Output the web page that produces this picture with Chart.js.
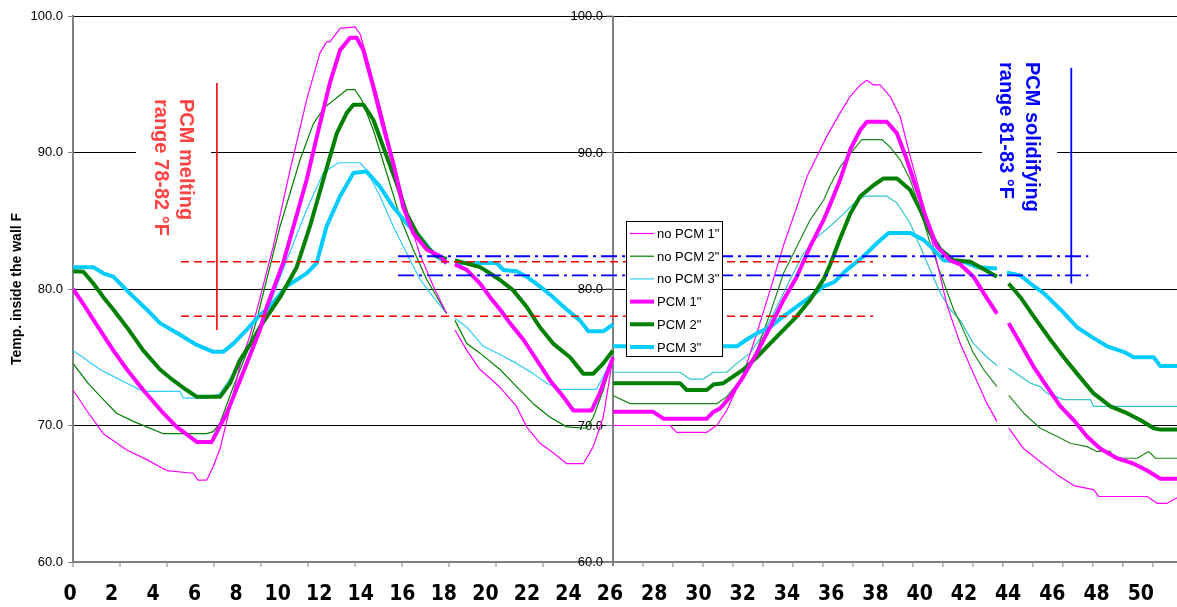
<!DOCTYPE html>
<html lang="en">
<head>
<meta charset="UTF-8">
<title>Temperature inside the wall</title>
<script src="https://cdn.jsdelivr.net/npm/chart.js"></script>
<style>
  html, body { margin: 0; padding: 0; background: #fff; }
  #wrap { width: 1177px; height: 607px; }
</style>
</head>
<body>
<div id="wrap"><canvas id="tempChart" width="1177" height="607"></canvas></div>
<script>
// ---- data (hour, temperature F); null marks a gap in the record ----
const xTickLabels = [0,2,4,6,8,10,12,14,16,18,20,22,24,26,28,30,32,34,36,38,40,42,44,46,48,50];
const yTicks = [60, 70, 80, 90, 100];
const seriesLabels = ['no PCM 1"', 'no PCM 2"', 'no PCM 3"', 'PCM 1"', 'PCM 2"', 'PCM 3"'];

// first day (left panel, hours 0-26)
const leftNoPcm1 = [[0,72.6],[0.66,71.1],[1.46,69.4],[2.59,68.2],[3.55,67.5],[4.51,66.7],[5.79,66.5],[6.02,66.0],[6.44,66.0],[6.75,67.0],[7.08,68.3],[7.56,71.3],[8.04,74.4],[8.52,76.6],[8.84,78.4],[9.64,83.1],[10.45,88.7],[11.25,93.85],[11.89,97.3],[12.21,98.1],[12.37,98.1],[12.86,99.1],[13.58,99.2],[13.82,98.7],[14.14,97.0],[14.78,93.4],[15.42,89.5],[16.07,85.6],[16.71,82.5],[17.35,80.2],[17.99,78.2],[18.2,null],[18.39,77.0],[18.96,75.5],[19.6,74.1],[20.56,72.8],[21.36,71.4],[21.84,69.9],[22.48,68.7],[23.12,68.0],[23.77,67.2],[24.57,67.2],[25.05,68.45],[25.53,70.6],[26,75.0]];
const leftNoPcm2 = [[0,74.55],[0.72,73.1],[1.46,71.9],[2.1,70.9],[2.9,70.3],[3.55,69.9],[4.35,69.4],[6.44,69.4],[6.75,69.55],[7.08,70.2],[7.72,72.85],[8.36,75.3],[8.84,77.7],[9.0,78.7],[9.97,84.6],[10.93,89.45],[11.57,92.1],[12.13,93.35],[12.37,93.6],[12.77,94.1],[13.18,94.6],[13.58,94.6],[13.9,93.85],[14.46,91.65],[15.1,88.5],[15.74,85.3],[16.38,82.9],[17.03,80.7],[17.99,78.2],[18.2,null],[18.39,77.7],[18.96,76.0],[19.6,75.3],[20.56,74.1],[21.36,72.85],[22.16,71.6],[22.97,70.6],[23.77,69.9],[24.73,69.8],[25.05,70.6],[25.53,72.6],[26,75.0]];
const leftNoPcm3 = [[0,75.5],[0.66,74.8],[1.3,74.1],[1.94,73.6],[2.59,73.1],[3.38,72.5],[5.15,72.5],[5.31,72.0],[6.44,72.0],[7.08,72.35],[7.72,73.8],[8.36,75.3],[9.0,77.0],[9.33,78.3],[10.29,82.1],[11.25,85.8],[12.05,88.5],[12.77,89.25],[13.82,89.25],[14.14,88.7],[14.78,86.8],[15.42,84.6],[16.07,82.6],[16.71,80.7],[17.35,79.4],[17.99,78.2],[18.2,null],[18.39,77.85],[18.96,77.2],[19.75,75.8],[20.56,75.2],[21.36,74.55],[22.16,73.8],[22.81,73.1],[23.45,72.65],[25.21,72.65],[26,75.0]];
const leftPcm1 = [[0,80.0],[0.5,78.9],[1.0,77.7],[1.94,75.5],[2.6,74.1],[3.38,72.6],[4.35,70.9],[4.99,69.9],[5.96,68.8],[6.68,68.8],[7.4,70.9],[8.04,73.3],[9.0,77.0],[9.33,78.7],[10.12,81.9],[11.25,88.0],[11.81,91.6],[12.37,95.1],[12.86,97.5],[13.34,98.4],[13.66,98.4],[13.98,97.5],[14.46,94.8],[14.94,91.9],[15.42,89.2],[15.9,86.0],[16.38,84.1],[17.03,82.9],[17.67,82.4],[18.0,81.9],[18.2,null],[18.39,81.8],[18.96,81.4],[19.6,80.4],[20.08,79.4],[20.56,78.5],[21.04,77.5],[21.68,76.3],[22.33,74.8],[22.97,73.3],[23.61,72.1],[24.09,71.1],[24.97,71.1],[25.37,72.4],[26,75.0]];
const leftPcm2 = [[0,81.3],[0.5,81.27],[0.98,80.4],[1.46,79.4],[1.94,78.5],[2.59,77.2],[3.38,75.5],[4.19,74.1],[4.83,73.3],[5.47,72.6],[5.96,72.1],[7.08,72.1],[7.56,73.1],[8.04,74.8],[8.68,76.3],[9.0,77.2],[9.97,79.4],[10.77,81.6],[11.41,84.6],[12.05,88.0],[12.7,91.4],[13.18,92.9],[13.5,93.5],[13.98,93.5],[14.46,92.4],[14.94,90.4],[15.59,87.7],[16.07,85.5],[16.55,84.1],[17.03,83.1],[17.51,82.4],[17.99,82.2],[18.2,null],[18.39,82.1],[19.6,81.6],[20.08,81.15],[20.56,80.66],[21.2,79.9],[21.84,78.7],[22.48,77.2],[23.12,76.0],[23.93,75.0],[24.57,73.8],[25.05,73.8],[25.53,74.55],[26,75.5]];
const leftPcm3 = [[0,81.6],[0.98,81.6],[1.46,81.15],[1.94,80.9],[2.59,79.9],[3.55,78.5],[4.19,77.5],[4.99,76.8],[5.96,75.9],[6.75,75.4],[7.24,75.4],[7.72,76.0],[8.36,77.0],[9.0,78.1],[9.48,78.7],[10.29,80.2],[11.25,81.15],[11.73,81.9],[12.21,84.6],[12.86,86.8],[13.5,88.5],[14.14,88.6],[14.78,87.5],[15.42,86.0],[16.07,84.8],[16.71,83.8],[17.35,82.6],[17.99,81.9],[18.2,null],[18.39,81.9],[20.4,81.9],[20.72,81.4],[21.36,81.3],[21.84,80.9],[22.48,80.2],[23.12,79.4],[23.77,78.5],[24.41,77.7],[24.81,76.9],[25.53,76.9],[26,77.4]];

// second day (right panel, hours 26-51.5)
const rightNoPcm1 = [[26,70.0],[28.58,70.0],[28.88,69.5],[30.24,69.5],[30.69,70.0],[31.14,71.1],[31.9,73.8],[32.5,76.75],[33.1,79.9],[33.71,83.2],[34.31,86.0],[34.76,88.2],[35.22,89.7],[35.67,91.2],[36.27,92.9],[36.72,94.1],[37.18,94.95],[37.48,95.3],[37.78,94.95],[38.08,94.95],[38.53,94.1],[38.99,92.6],[39.44,89.7],[39.89,87.0],[40.34,84.1],[40.8,80.9],[41.1,78.8],[41.7,76.0],[42.3,73.8],[42.91,71.6],[43.36,70.3],[43.6,null],[43.89,69.8],[44.57,68.3],[45.32,67.35],[46.08,66.4],[46.83,65.6],[47.73,65.3],[47.96,64.8],[50.15,64.8],[50.6,64.3],[51.05,64.3],[51.5,64.7]];
const rightNoPcm2 = [[26,72.2],[26.77,71.6],[30.69,71.6],[31.14,72.1],[31.9,73.6],[32.5,75.5],[33.1,78.2],[33.71,81.15],[34.31,83.1],[34.91,85.05],[35.52,86.5],[35.82,87.6],[36.27,88.95],[36.72,89.9],[37.25,90.95],[38.16,90.95],[38.53,90.4],[38.99,89.45],[39.44,88.0],[39.89,85.8],[40.34,83.35],[40.8,81.15],[41.4,78.5],[41.7,77.5],[42.3,75.3],[42.76,74.1],[43.36,72.85],[43.6,null],[43.89,72.2],[44.57,70.9],[45.32,69.8],[46.08,69.2],[46.68,68.7],[47.43,68.45],[47.88,68.1],[48.49,68.1],[48.64,67.6],[49.7,67.6],[50.22,68.1],[50.52,67.6],[51.5,67.6]];
const rightNoPcm3 = [[26,73.9],[29.03,73.9],[29.48,73.4],[30.09,73.4],[30.54,73.9],[31.14,73.9],[31.6,74.55],[32.2,75.3],[32.8,76.75],[33.41,78.7],[34.01,80.7],[34.61,82.6],[35.22,83.8],[35.82,84.6],[36.42,85.5],[37.03,86.5],[37.4,86.8],[38.38,86.8],[38.84,86.3],[39.44,84.8],[39.89,83.1],[40.34,81.4],[40.8,79.7],[41.25,78.5],[41.7,77.7],[42.3,76.0],[42.91,75.0],[43.36,74.4],[43.6,null],[43.89,74.2],[44.42,73.6],[44.87,73.1],[45.32,72.85],[45.62,72.35],[46.38,71.9],[47.58,71.9],[47.73,71.4],[51.5,71.4]];
const rightPcm1 = [[26,71.0],[27.82,71.0],[28.28,70.5],[30.24,70.5],[30.54,71.0],[30.84,71.25],[31.29,72.1],[31.9,73.6],[32.5,75.3],[33.1,77.2],[33.71,79.2],[34.31,80.9],[34.91,83.1],[35.52,85.05],[35.82,86.2],[36.27,88.0],[36.72,90.2],[37.18,91.65],[37.48,92.25],[38.38,92.25],[38.84,91.4],[39.29,89.45],[39.74,87.25],[40.19,85.05],[40.65,83.1],[41.25,82.1],[41.7,81.8],[42.3,80.9],[42.76,79.7],[43.36,78.2],[43.6,null],[43.89,77.5],[44.42,76.0],[45.02,74.3],[45.62,72.85],[46.23,71.4],[46.83,70.4],[47.43,69.2],[48.04,68.3],[48.79,67.6],[49.54,67.2],[50.15,66.7],[50.75,66.1],[51.5,66.1]];
const rightPcm2 = [[26,73.1],[29.03,73.1],[29.33,72.6],[30.24,72.6],[30.54,73.0],[30.99,73.1],[31.44,73.6],[31.9,74.1],[32.5,75.0],[33.1,76.0],[33.71,77.0],[34.31,78.0],[34.91,79.2],[35.52,80.7],[35.82,81.8],[36.27,83.7],[36.72,85.5],[37.18,86.8],[37.78,87.6],[38.23,88.1],[38.84,88.1],[39.44,87.25],[39.89,85.8],[40.34,84.1],[40.8,82.9],[41.4,82.1],[42.15,82.0],[42.61,81.6],[43.36,80.9],[43.6,null],[43.89,80.4],[44.42,79.4],[45.02,78.0],[45.77,76.3],[46.38,75.0],[46.98,73.8],[47.73,72.35],[48.49,71.4],[49.24,70.9],[49.84,70.4],[50.45,69.8],[50.75,69.7],[51.5,69.7]];
const rightPcm3 = [[26,75.8],[31.6,75.8],[32.05,76.3],[32.5,76.75],[33.1,77.2],[33.71,78.0],[34.31,78.7],[34.91,79.4],[35.52,80.2],[36.0,80.5],[36.57,81.4],[37.33,82.4],[37.93,83.35],[38.46,84.1],[39.44,84.1],[40.04,83.6],[40.49,82.9],[40.95,82.1],[41.85,82.0],[42.46,81.6],[43.36,81.5],[43.6,null],[43.81,81.2],[44.42,81.0],[44.87,80.4],[45.47,79.7],[46.23,78.5],[46.98,77.2],[47.73,76.4],[48.34,75.8],[49.09,75.4],[49.54,75.0],[50.45,75.0],[50.75,74.35],[51.5,74.35]];

// PCM phase change ranges marked on the chart
const meltRange = [78, 82];
const meltSpan = [5.2, 37.76];
const meltMarker = [[6.93, 77.0], [6.93, 95.1]];
const solidRange = [81.0, 82.4];
const solidSpan = [15.65, 47.49];
const solidMarker = [[46.72, 80.4], [46.72, 96.2]];

// ---- x scale: the two days were plotted as separate panels of different width ----
const SPLIT_HOUR = 26;
const SPLIT_FRAC = 540 / 1104;

class SplitScale extends Chart.LinearScale {
  getPixelForValue(value) {
    if (value === null || value === undefined || isNaN(value)) return NaN;
    const mid = this.left + this.width * SPLIT_FRAC;
    if (value <= SPLIT_HOUR) {
      return this.left + (value - this.min) / (SPLIT_HOUR - this.min) * (mid - this.left);
    }
    return mid + (value - SPLIT_HOUR) / (this.max - SPLIT_HOUR) * (this.right - mid);
  }
  getValueForPixel(pixel) {
    const mid = this.left + this.width * SPLIT_FRAC;
    if (pixel <= mid) return this.min + (pixel - this.left) / (mid - this.left) * (SPLIT_HOUR - this.min);
    return SPLIT_HOUR + (pixel - mid) / (this.right - mid) * (this.max - SPLIT_HOUR);
  }
}
SplitScale.id = 'split';
SplitScale.defaults = Chart.LinearScale.defaults;
Chart.register(SplitScale);

const FONT = "'Liberation Sans', Arial, sans-serif";
const NARROW = "'Liberation Sans Narrow', 'DejaVu Sans Condensed', 'Liberation Sans', sans-serif";

const series = [
  { left: leftNoPcm1, right: rightNoPcm1, color: '#ff00ff', rightColor: '#ff00ff', width: 1.2, thick: false },
  { left: leftNoPcm2, right: rightNoPcm2, color: '#008000', rightColor: '#1f8a1f', width: 1.2, thick: false },
  { left: leftNoPcm3, right: rightNoPcm3, color: '#33ccff', rightColor: '#33c4cc', width: 1.2, thick: false },
  { left: leftPcm1, right: rightPcm1, color: '#ff00ff', rightColor: '#ff00ff', width: 4, thick: true },
  { left: leftPcm2, right: rightPcm2, color: '#008000', rightColor: '#008000', width: 4, thick: true },
  { left: leftPcm3, right: rightPcm3, color: '#00ccff', rightColor: '#00ccff', width: 4, thick: true }
];

const toPoints = arr => arr.map(([x, y]) => ({ x: x, y: y }));

const datasets = [];
series.forEach((s, i) => {
  [['left', s.color], ['right', s.rightColor]].forEach(([side, col]) => {
    datasets.push({
      label: seriesLabels[i],
      data: toPoints(s[side]),
      borderColor: col,
      borderWidth: s.width,
      borderJoinStyle: 'round',
      spanGaps: false,
      order: s.thick ? 1 : 2
    });
  });
});

// range marker lines
function markLine(points, color, dash, width) {
  return { label: '', data: toPoints(points), borderColor: color, borderDash: dash, borderWidth: width, order: 0 };
}
meltRange.forEach(t => datasets.push(markLine([[meltSpan[0], t], [meltSpan[1], t]], '#ff0000', [8, 5], 1.6)));
datasets.push(markLine(meltMarker, '#ff0000', [], 1.6));
solidRange.forEach(t => datasets.push(markLine([[solidSpan[0], t], [solidSpan[1], t]], '#0000ff', [16, 5, 3, 5], 1.8)));
datasets.push(markLine(solidMarker, '#0000ff', [], 1.8));

// labels, second y axis, small ticks and legend box
const decorPlugin = {
  id: 'decor',
  beforeDatasetsDraw(chart) {
    const { ctx, chartArea, scales: { x, y } } = chart;
    const xm = x.getPixelForValue(SPLIT_HOUR);
    ctx.save();

    // middle axis of the second panel
    ctx.strokeStyle = '#808080';
    ctx.lineWidth = 2;
    ctx.beginPath();
    ctx.moveTo(xm, chartArea.top);
    ctx.lineTo(xm, chartArea.bottom + 4);
    ctx.stroke();
    ctx.lineWidth = 1;
    ctx.font = '13px ' + FONT;
    ctx.fillStyle = '#000';
    ctx.textAlign = 'right';
    ctx.textBaseline = 'middle';
    yTicks.forEach(v => {
      const py = y.getPixelForValue(v);
      ctx.beginPath();
      ctx.moveTo(xm - 7, py);
      ctx.lineTo(xm, py);
      ctx.stroke();
      ctx.fillText(v.toFixed(1), xm - 10, py + 0.5);
    });

    // small tick marks on the bottom axis
    ctx.beginPath();
    for (let h = 0; h < SPLIT_HOUR - 0.5; h += 2.263) {
      const px = x.getPixelForValue(h);
      ctx.moveTo(px, chartArea.bottom);
      ctx.lineTo(px, chartArea.bottom + 5);
    }
    for (let h = SPLIT_HOUR + 1.356; h < x.max; h += 1.356) {
      const px = x.getPixelForValue(h);
      ctx.moveTo(px, chartArea.bottom);
      ctx.lineTo(px, chartArea.bottom + 5);
    }
    ctx.stroke();

    // rotated notes on white boxes
    ctx.fillStyle = '#fff';
    ctx.fillRect(136, 92, 75, 150);
    ctx.fillRect(982, 55, 75, 165);
    drawRotated(ctx, ['PCM melting', 'range 78-82 \u00b0F'], 180, 99, '#ff4444', 25);
    drawRotated(ctx, ['PCM solidifying', 'range 81-83 \u00b0F'], 1026, 62, '#0000ff', 26);
    ctx.restore();
  },
  afterDatasetsDraw(chart) {
    const { ctx } = chart;
    const bx = 626, by = 221, bw = 96, bh = 135;
    ctx.save();
    ctx.fillStyle = '#fff';
    ctx.fillRect(bx, by, bw, bh);
    ctx.strokeStyle = '#000';
    ctx.lineWidth = 1;
    ctx.strokeRect(bx + 0.5, by + 0.5, bw, bh);
    ctx.font = '13px ' + FONT;
    ctx.textAlign = 'left';
    ctx.textBaseline = 'middle';
    series.forEach((s, i) => {
      const ly = by + 12.5 + i * 22.7;
      ctx.strokeStyle = s.color;
      ctx.lineWidth = s.width;
      ctx.beginPath();
      ctx.moveTo(bx + 4, ly);
      ctx.lineTo(bx + 28, ly);
      ctx.stroke();
      ctx.fillStyle = '#000';
      ctx.fillText(seriesLabels[i], bx + 31, ly + 1);
    });
    ctx.restore();
  }
};

function drawRotated(ctx, lines, x0, y0, color, gap) {
  ctx.fillStyle = color;
  ctx.font = 'bold 20px ' + FONT;
  ctx.textAlign = 'left';
  ctx.textBaseline = 'alphabetic';
  lines.forEach((t, i) => {
    ctx.save();
    ctx.translate(x0 - i * gap, y0);
    ctx.rotate(Math.PI / 2);
    ctx.fillText(t, 0, 0);
    ctx.restore();
  });
}

new Chart(document.getElementById('tempChart'), {
  type: 'line',
  data: { datasets: datasets },
  options: {
    responsive: false,
    animation: false,
    devicePixelRatio: 1,
    layout: { padding: { top: 16, right: 0, bottom: 0, left: 0 } },
    plugins: { legend: { display: false }, tooltip: { enabled: false } },
    elements: { point: { radius: 0 }, line: { tension: 0 } },
    scales: {
      x: {
        type: 'split',
        min: 0,
        max: 51.5,
        afterBuildTicks: s => { s.ticks = xTickLabels.map(v => ({ value: v })); },
        afterFit: s => { s.height = 45; },
        grid: { display: false, drawTicks: false },
        border: { color: '#808080', width: 2 },
        ticks: {
          font: { family: NARROW, size: 21, weight: 'bold' },
          color: '#000',
          padding: 20,
          labelOffset: -3,
          maxRotation: 0,
          autoSkip: false
        }
      },
      y: {
        min: 60,
        max: 100,
        afterBuildTicks: s => { s.ticks = yTicks.map(v => ({ value: v })); },
        afterFit: s => { s.width = 73; },
        grid: {
          color: c => (c.tick && c.tick.value === 60) ? '#808080' : '#000',
          tickColor: '#808080',
          tickLength: 5,
          lineWidth: 1
        },
        border: { color: '#808080', width: 2 },
        ticks: {
          font: { family: FONT, size: 13 },
          color: '#000',
          padding: 5,
          callback: v => v.toFixed(1)
        },
        title: {
          display: true,
          text: 'Temp. inside the wall F',
          font: { family: FONT, size: 14, weight: 'bold' },
          color: '#000',
          padding: { top: 9, bottom: 0 }
        }
      }
    }
  },
  plugins: [decorPlugin]
});
</script>
</body>
</html>
